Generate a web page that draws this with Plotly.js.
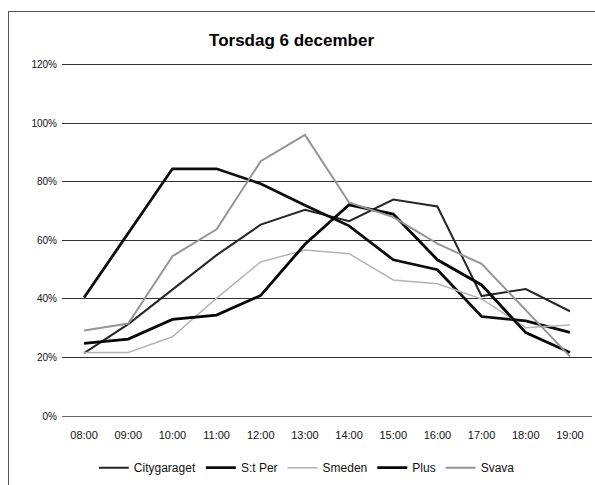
<!DOCTYPE html>
<html>
<head>
<meta charset="utf-8">
<script src="https://cdn.plot.ly/plotly-3.0.1.min.js"></script>
<style>
  html, body { margin: 0; padding: 0; background: #fff; }
  #chart { position: absolute; left: 0; top: 0; width: 595px; height: 485px; }
  #frame { position: absolute; left: 8px; top: 11px; width: 600px; height: 500px; border: 1px solid #555; pointer-events: none; }
</style>
</head>
<body>
<div id="chart"></div>
<div id="frame"></div>
<script>
const hours = ["08:00","09:00","10:00","11:00","12:00","13:00","14:00","15:00","16:00","17:00","18:00","19:00"];
const citygaraget = [21.5, 31.4, 43.2, 55.0, 65.4, 70.5, 66.6, 74.0, 71.6, 41.0, 43.4, 35.8];
const stPer       = [40.5, 62.5, 84.5, 84.5, 79.4, 72.0, 65.0, 53.4, 50.0, 34.0, 32.5, 28.6];
const smeden      = [21.7, 21.7, 27.1, 40.3, 52.7, 56.7, 55.5, 46.5, 45.2, 40.0, 30.2, 31.1];
const plus        = [24.8, 26.3, 33.0, 34.5, 41.2, 58.7, 72.2, 69.0, 53.4, 44.8, 28.5, 21.7];
const svava       = [29.2, 31.6, 54.6, 63.8, 87.1, 96.1, 73.0, 68.0, 58.9, 52.0, 36.2, 20.4];

const names  = ["Citygaraget", "S:t Per", "Smeden", "Plus", "Svava"];
const series = [citygaraget, stPer, smeden, plus, svava];
const colors = ["#262626", "#0d0d0d", "#b4b4b4", "#050505", "#959595"];
const widths = [2, 2.8, 1.5, 2.8, 2];

const traces = series.map((ys, i) => ({
  type: "scatter",
  mode: "lines",
  name: names[i],
  x: hours,
  y: ys,
  line: { color: colors[i], width: widths[i] }
}));

const layout = {
  width: 595,
  height: 485,
  paper_bgcolor: "#fff",
  plot_bgcolor: "#fff",
  margin: { l: 62, r: 3, t: 62, b: 64 },
  font: { family: "Liberation Sans, Arial, sans-serif", size: 11, color: "#111" },
  title: {
    text: "<b>Torsdag 6 december</b>",
    font: { family: "Liberation Sans, Arial, sans-serif", size: 17, color: "#000" },
    x: 0.49, xanchor: "center",
    y: 0.918, yanchor: "middle"
  },
  xaxis: {
    type: "category",
    range: [-0.5, 11.5],
    showgrid: false,
    showline: true,
    linecolor: "#666",
    linewidth: 1,
    ticks: "",
    ticklabelstandoff: 9,
    tickfont: { size: 11, color: "#111" },
    zeroline: false
  },
  yaxis: {
    range: [0, 121],
    dtick: 20,
    ticksuffix: "%",
    showgrid: true,
    gridcolor: "#333",
    gridwidth: 1,
    zeroline: false,
    showline: false,
    ticks: "",
    ticklabelstandoff: 4,
    tickfont: { size: 10, color: "#111" }
  },
  showlegend: true,
  legend: {
    orientation: "h",
    x: 0.462, xanchor: "center",
    y: -0.105, yanchor: "top",
    font: { size: 12, color: "#111" },
    itemwidth: 30,
    tracegroupgap: 0
  }
};

Plotly.newPlot("chart", traces, layout, { displayModeBar: false, staticPlot: true });
</script>
</body>
</html>
